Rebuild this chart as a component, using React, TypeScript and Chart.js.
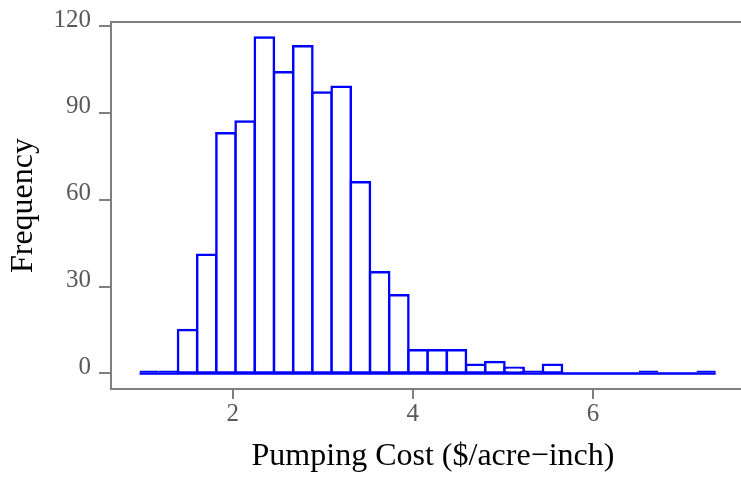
import React, { useEffect, useRef } from "react";
import { Chart, registerables } from "chart.js";

Chart.register(...registerables);

// Histogram data (30 equal-width bins)
const binStart = 0.965;
const binWidth = 0.2133;
const counts = [1, 1, 15, 41, 83, 87, 116, 104, 113, 97, 99, 66, 35, 27, 8, 8, 8, 3, 4, 2, 1, 3, 0, 0, 0, 0, 1, 0, 0, 1];
const xTicks = [2, 4, 6];
const yTicks = [0, 30, 60, 90, 120];
const xTitle = "Pumping Cost ($/acre\u2212inch)";
const yTitle = "Frequency";

const SERIF = "'Liberation Serif', 'Times New Roman', serif";
const AXIS_GRAY = "#7f7f7f";
const TICK_GRAY = "#595959";
const BLUE = "#0000ff";
const OUTLINE = 2.5;

const framePlugin = {
  id: "frame",
  beforeDatasetsDraw(chart: any) {
    const { ctx, chartArea: a } = chart;
    ctx.save();
    ctx.strokeStyle = AXIS_GRAY;
    ctx.lineWidth = 2;
    ctx.beginPath();
    ctx.moveTo(a.left, a.top);
    ctx.lineTo(a.right, a.top);
    ctx.lineTo(a.right, a.bottom);
    ctx.stroke();
    ctx.restore();
  },
};

export default function App() {
  const ref = useRef<HTMLCanvasElement | null>(null);

  useEffect(() => {
    if (!ref.current) return;
    const bars = counts.map((c, i) => ({ x: binStart + (i + 0.5) * binWidth, y: c }));
    const baseline = [
      { x: binStart, y: 0 },
      { x: binStart + counts.length * binWidth, y: 0 },
    ];
    const chart = new Chart(ref.current, {
      type: "bar",
      data: {
        datasets: [
          {
            type: "line",
            data: baseline,
            borderColor: BLUE,
            borderWidth: OUTLINE,
            pointRadius: 0,
            fill: false,
          } as any,
          {
            type: "bar",
            data: bars,
            backgroundColor: "#ffffff",
            borderColor: BLUE,
            borderWidth: OUTLINE,
            borderSkipped: false,
            barPercentage: 1,
            categoryPercentage: 1,
            // centre the outline on the bin edges; very short bars stay solid
            inflateAmount: (c: any) => (c.raw && c.raw.y <= 1 ? 0 : OUTLINE / 2),
          } as any,
        ],
      },
      options: {
        animation: false,
        responsive: false,
        devicePixelRatio: 1,
        layout: { padding: { top: 22, right: 1, left: 0, bottom: 0 } },
        plugins: { legend: { display: false }, tooltip: { enabled: false } },
        scales: {
          x: {
            type: "linear",
            min: 0.648,
            max: 7.8,
            offset: false,
            afterBuildTicks: (s: any) => {
              s.ticks = xTicks.map((v) => ({ value: v }));
            },
            afterFit: (s: any) => {
              s.height = 89;
            },
            grid: {
              offset: false,
              drawOnChartArea: false,
              drawTicks: true,
              tickLength: 10,
              color: AXIS_GRAY,
              lineWidth: 2,
            },
            border: { display: true, color: AXIS_GRAY, width: 2 },
            ticks: {
              color: TICK_GRAY,
              font: { family: SERIF, size: 25, lineHeight: 1 },
              padding: 3,
              maxRotation: 0,
            },
            title: {
              display: true,
              text: xTitle,
              color: "#000000",
              font: { family: SERIF, size: 32, lineHeight: 1 },
              padding: { top: 0, bottom: 5 },
            },
          },
          y: {
            type: "linear",
            min: -5.36,
            max: 121.38,
            afterBuildTicks: (s: any) => {
              s.ticks = yTicks.map((v) => ({ value: v }));
            },
            afterFit: (s: any) => {
              s.width = 111;
            },
            grid: { drawOnChartArea: false, drawTicks: true, tickLength: 12, color: AXIS_GRAY, lineWidth: 2 },
            border: { display: true, color: AXIS_GRAY, width: 2 },
            ticks: {
              color: TICK_GRAY,
              font: { family: SERIF, size: 25, lineHeight: 1 },
              padding: 8,
              labelOffset: -6,
            },
            title: {
              display: true,
              text: yTitle,
              color: "#000000",
              font: { family: SERIF, size: 32, lineHeight: 1 },
              padding: { top: 8, bottom: 0 },
            },
          },
        },
      },
      plugins: [framePlugin],
    });
    return () => chart.destroy();
  }, []);

  return (
    <div
      style={{
        position: "fixed",
        left: 0,
        top: 0,
        width: 741,
        height: 478,
        overflow: "hidden",
        background: "#ffffff",
      }}
    >
      <canvas ref={ref} width={756} height={478} style={{ width: 756, height: 478, display: "block" }} />
    </div>
  );
}
